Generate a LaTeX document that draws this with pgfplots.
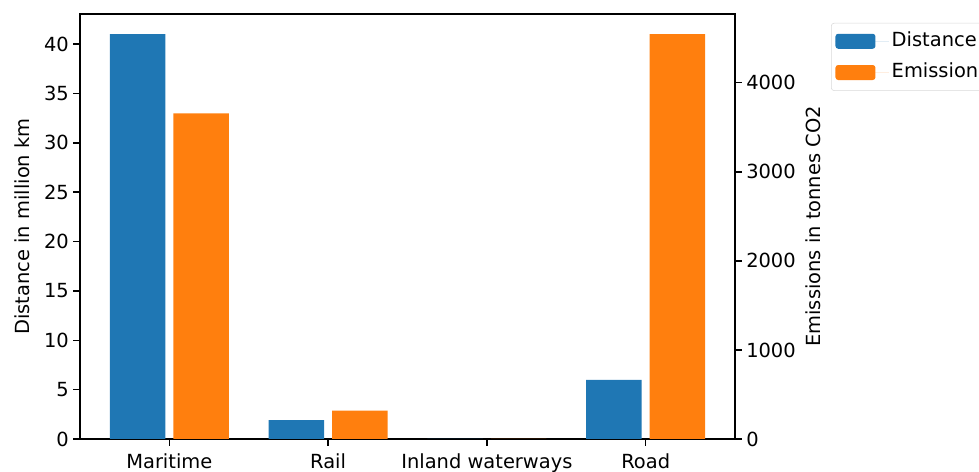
\documentclass[border=0pt]{standalone}
\usepackage{pgfplots}
\pgfplotsset{compat=1.18}
\usepackage{fontspec}
\setmainfont{DejaVu Sans}

\definecolor{mplblue}{HTML}{1F77B4}
\definecolor{mplorange}{HTML}{FF7F0E}

\pgfplotsset{
  twinbase/.style={
    scale only axis,
    width=471.6pt, height=306pt,
    xmin=-0.5625, xmax=3.5625,
    xtick={0,1,2,3},
    xticklabels={Maritime, Rail, Inland waterways, Road},
    font=\fontsize{14}{17}\selectfont,
    /pgf/number format/assume math mode=true,
    /pgf/number format/1000 sep={},
    tick align=outside,
    major tick length=4.9pt,
    every tick/.style={black, line width=1.1pt},
    axis line style={line width=1.1pt},
    xticklabel style={inner sep=3pt, yshift=-2.5pt},
    yticklabel style={inner sep=3pt},
    ybar, bar width=0.35,
    ymin=0,
  },
}

\begin{document}
\begin{tikzpicture}
% Left axis: distance travelled
\begin{axis}[
  twinbase,
  ymax=43.05,
  ytick={0,5,...,40},
  xtick pos=bottom, ytick pos=left,
  ylabel={Distance in million km},
  every axis y label/.style={at={(axis description cs:-0.0885,0.5)}, rotate=90, anchor=center},
]
\addplot[fill=mplblue, draw=none, bar shift=-0.2] coordinates {
  (0,41) (1,1.9) (2,0) (3,6)
};
\end{axis}
% Right axis: emissions
\begin{axis}[
  twinbase,
  ymax=4771.2,
  ytick={0,1000,...,4000},
  axis x line=none,
  axis y line*=right,
  ylabel={Emissions in tonnes CO2},
  every axis y label/.style={at={(axis description cs:1.119,0.5)}, rotate=90, anchor=center},
  legend cell align=left,
  legend style={at={(axis description cs:1.1466,0.979)}, anchor=north west,
    draw=black!15, rounded corners=2pt, inner xsep=3pt, inner ysep=4.5pt, row sep=5.5pt,
    nodes={text height=10pt, text depth=3pt, inner sep=2pt},
    font=\fontsize{14}{17}\selectfont},
  legend image code/.code={
    \fill[#1] (0pt,-5.4pt) rectangle (28.8pt,5.4pt);
    \path (0pt,0pt) -- (38.5pt,0pt);
  },
]
\addlegendimage{fill=mplblue, draw=none}
\addlegendentry{Distance}
\addplot[fill=mplorange, draw=none, bar shift=0.2] coordinates {
  (0,3656) (1,318) (2,0) (3,4544)
};
\addlegendentry{Emission}
\end{axis}
\pgfresetboundingbox
\path[use as bounding box] (-57.6pt,-23.76pt) rectangle (647.28pt,316.08pt);
\end{tikzpicture}
\end{document}
